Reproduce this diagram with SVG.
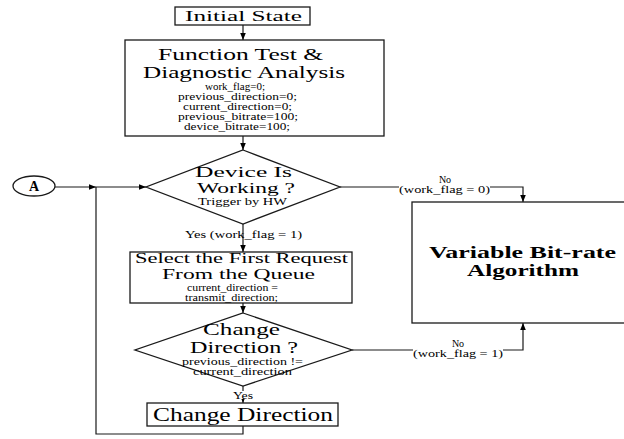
<svg xmlns="http://www.w3.org/2000/svg" width="624" height="439" viewBox="0 0 624 439">
<defs>
<style>
.bx{fill:#fff;stroke:#1a1a1a;stroke-width:1.3}
.ln{fill:none;stroke:#1a1a1a;stroke-width:1.2}
text{font-family:'Times New Roman','Liberation Serif',Tinos,'Noto Serif','DejaVu Serif',FreeSerif,serif;fill:#000}
.b{font-weight:bold}
.lbl{fill:#fff;stroke:none}
</style>
<marker id="ar" viewBox="0 0 8 8" refX="8" refY="4" markerWidth="7" markerHeight="7" markerUnits="userSpaceOnUse" orient="auto">
<path d="M0,0.8 L8,4 L0,7.2 Z" fill="#000"/>
</marker>
</defs>
<rect width="624" height="439" fill="#fff"/>

<g id="connectors">
<path class="ln" d="M243,25 V40" marker-end="url(#ar)"/>
<path class="ln" d="M243,136 V150" marker-end="url(#ar)"/>
<path class="ln" d="M55,187 H96" marker-end="url(#ar)"/>
<path class="ln" d="M96,187 H146" marker-end="url(#ar)"/>
<path class="ln" d="M243,224 V252" marker-end="url(#ar)"/>
<path class="ln" d="M243,303 V313" marker-end="url(#ar)"/>
<path class="ln" d="M243,386 V403" marker-end="url(#ar)"/>
<path class="ln" d="M243,426 V434 H96 V187"/>
<path class="ln" d="M340,187 H523 V202" marker-end="url(#ar)"/>
<path class="ln" d="M352,350 H523 V323" marker-end="url(#ar)"/>
<text x="185" y="238" font-size="11" textLength="117" lengthAdjust="spacingAndGlyphs">Yes (work_flag = 1)</text>
<rect class="lbl" x="232" y="391" width="22" height="8"/>
<text x="233" y="399" font-size="10.5" textLength="20" lengthAdjust="spacingAndGlyphs">Yes</text>
<rect class="lbl" x="399" y="176" width="91" height="19"/>
<text x="445" y="183" font-size="10" text-anchor="middle">No</text>
<text x="399" y="193" font-size="10.5" textLength="91" lengthAdjust="spacingAndGlyphs">(work_flag = 0)</text>
<rect class="lbl" x="413" y="340" width="90" height="18"/>
<text x="458" y="347" font-size="10" text-anchor="middle">No</text>
<text x="413" y="356.5" font-size="10.5" textLength="90" lengthAdjust="spacingAndGlyphs">(work_flag = 1)</text>
</g>

<g id="initial">
<rect class="bx" x="175" y="7" width="135" height="18"/>
<text x="185" y="20.5" font-size="14" textLength="117" lengthAdjust="spacingAndGlyphs">Initial State</text>
</g>

<g id="function-test">
<rect class="bx" x="125" y="40" width="259" height="96"/>
<text x="158" y="60" font-size="17" textLength="165" lengthAdjust="spacingAndGlyphs">Function Test &amp;</text>
<text x="143" y="78" font-size="17" textLength="202" lengthAdjust="spacingAndGlyphs">Diagnostic Analysis</text>
<text x="205" y="89.5" font-size="9.5" textLength="60" lengthAdjust="spacingAndGlyphs">work_flag=0;</text>
<text x="178" y="99.8" font-size="9.5" textLength="119" lengthAdjust="spacingAndGlyphs">previous_direction=0;</text>
<text x="183" y="110" font-size="9.5" textLength="109" lengthAdjust="spacingAndGlyphs">current_direction=0;</text>
<text x="178" y="120.2" font-size="9.5" textLength="120" lengthAdjust="spacingAndGlyphs">previous_bitrate=100;</text>
<text x="184" y="130.4" font-size="9.5" textLength="106" lengthAdjust="spacingAndGlyphs">device_bitrate=100;</text>
</g>

<g id="connector-a">
<ellipse class="bx" cx="34" cy="186" rx="21" ry="10"/>
<text class="b" x="34" y="191" font-size="14" text-anchor="middle">A</text>
</g>

<g id="device-working">
<polygon class="bx" points="243,150 340,187 243,224 146,187"/>
<text x="195" y="177" font-size="15" textLength="97" lengthAdjust="spacingAndGlyphs">Device Is</text>
<text x="197" y="192.5" font-size="15" textLength="98" lengthAdjust="spacingAndGlyphs">Working ?</text>
<text x="198" y="205" font-size="10" textLength="89" lengthAdjust="spacingAndGlyphs">Trigger by HW</text>
</g>

<g id="select-request">
<rect class="bx" x="130" y="252" width="222" height="51"/>
<text x="135" y="263" font-size="15" textLength="213" lengthAdjust="spacingAndGlyphs">Select the First Request</text>
<text x="162" y="279" font-size="15" textLength="153" lengthAdjust="spacingAndGlyphs">From the Queue</text>
<text x="187" y="291" font-size="10" textLength="91" lengthAdjust="spacingAndGlyphs">current_direction =</text>
<text x="185" y="300.5" font-size="10" textLength="93" lengthAdjust="spacingAndGlyphs">transmit_direction;</text>
</g>

<g id="change-direction-q">
<polygon class="bx" points="243,313 352,350 243,386 135,350"/>
<text x="203" y="335" font-size="17" textLength="77" lengthAdjust="spacingAndGlyphs">Change</text>
<text x="190" y="353" font-size="17" textLength="108" lengthAdjust="spacingAndGlyphs">Direction ?</text>
<text x="182" y="365" font-size="9.5" textLength="121" lengthAdjust="spacingAndGlyphs">previous_direction !=</text>
<text x="193" y="374.5" font-size="9.5" textLength="99" lengthAdjust="spacingAndGlyphs">current_direction</text>
</g>

<g id="change-direction">
<rect class="bx" x="147" y="403" width="191" height="23"/>
<text x="153" y="421" font-size="18" textLength="180" lengthAdjust="spacingAndGlyphs">Change Direction</text>
</g>

<g id="vbr">
<rect class="bx" x="412" y="202" width="220" height="121"/>
<text class="b" x="429" y="258" font-size="16" textLength="187" lengthAdjust="spacingAndGlyphs">Variable Bit-rate</text>
<text class="b" x="467" y="276" font-size="16" textLength="112" lengthAdjust="spacingAndGlyphs">Algorithm</text>
</g>
</svg>
